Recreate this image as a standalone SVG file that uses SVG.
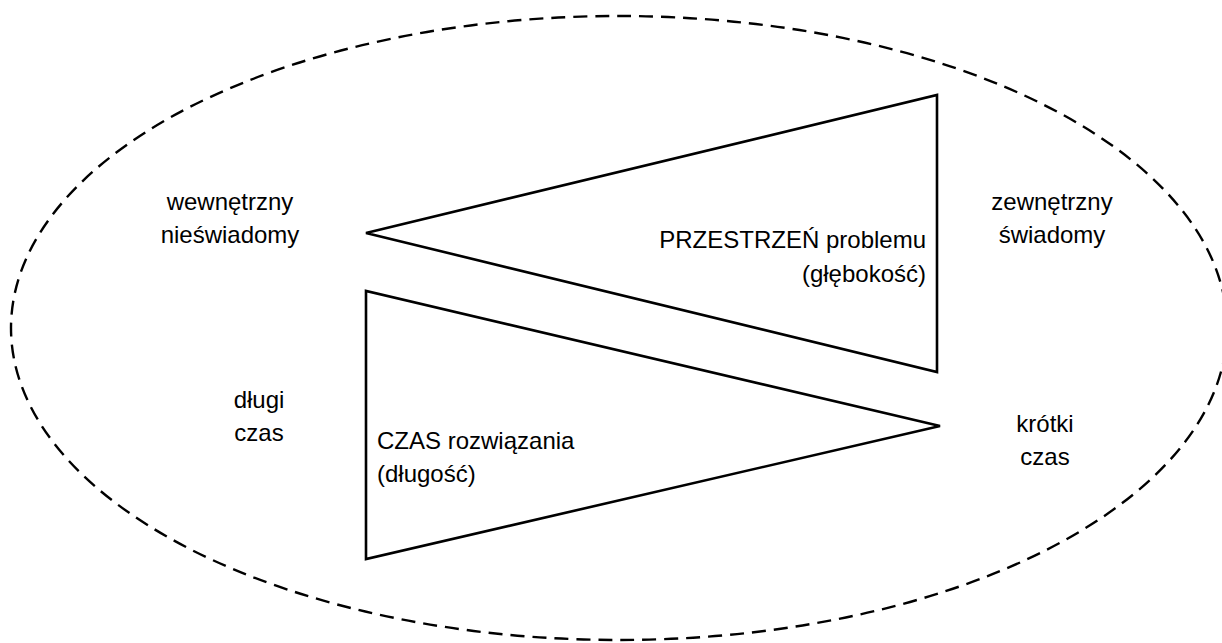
<svg xmlns="http://www.w3.org/2000/svg" width="1222" height="643" viewBox="0 0 1222 643">
<style>
.t{font-family:"Liberation Sans",Arial,sans-serif;font-size:24px;fill:#000}
.tri{fill:none;stroke:#000;stroke-width:2.6;stroke-linejoin:miter}
.ell{fill:none;stroke:#000;stroke-width:2.4;stroke-dasharray:14 8}
</style>
<rect width="1222" height="643" fill="#fff"/>
<g id="boundary"><ellipse class="ell" cx="619" cy="328" rx="608" ry="312"/></g>
<g id="problem-space">
<polygon class="tri" points="937,95 937,372 366,233"/>
<text class="t" text-anchor="end" x="926" y="248">PRZESTRZEŃ problemu</text>
<text class="t" text-anchor="end" x="926" y="282">(głębokość)</text>
</g>
<g id="solution-time">
<polygon class="tri" points="366,291 366,559 940,426"/>
<text class="t" x="377" y="449">CZAS rozwiązania</text>
<text class="t" x="377" y="482">(długość)</text>
</g>
<g id="label-internal">
<text class="t" text-anchor="middle" x="230" y="210">wewnętrzny</text>
<text class="t" text-anchor="middle" x="230" y="243">nieświadomy</text>
</g>
<g id="label-external">
<text class="t" text-anchor="middle" x="1052" y="210">zewnętrzny</text>
<text class="t" text-anchor="middle" x="1052" y="243">świadomy</text>
</g>
<g id="label-long">
<text class="t" text-anchor="middle" x="259" y="408">długi</text>
<text class="t" text-anchor="middle" x="259" y="441">czas</text>
</g>
<g id="label-short">
<text class="t" text-anchor="middle" x="1045" y="432">krótki</text>
<text class="t" text-anchor="middle" x="1045" y="465">czas</text>
</g>
<g id="connectors"></g>
</svg>
